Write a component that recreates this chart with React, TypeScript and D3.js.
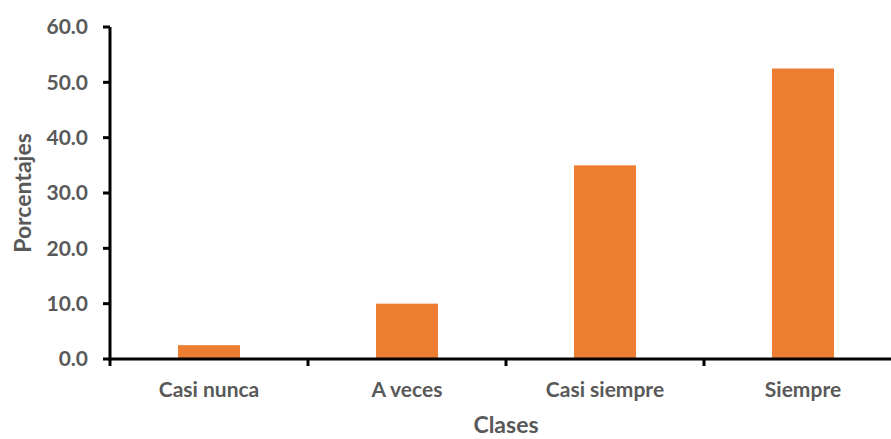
import React from "react";
import * as d3 from "d3";

const categories = ["Casi nunca", "A veces", "Casi siempre", "Siempre"];
const values = [2.5, 10.0, 35.0, 52.5];
const yTicks = [0, 10, 20, 30, 40, 50, 60];

const W = 891;
const H = 439;
const FONT = "Lato, 'Open Sans', sans-serif";
const TEXT = "#595959";

export default function App() {
  const x = d3
    .scaleBand<string>()
    .domain(categories)
    .range([110, 902])
    .paddingInner(0.687)
    .paddingOuter(0.3435);
  const step = x.step();
  const y = d3.scaleLinear().domain([0, 60]).range([359, 27]);

  return (
    <svg width={W} height={H} style={{ position: "absolute", left: 0, top: 0 }}>
      <rect width={W} height={H} fill="#fff" />
      {categories.map((c, i) => (
        <rect
          key={c}
          x={x(c)!}
          y={y(values[i])}
          width={x.bandwidth()}
          height={y(0) - y(values[i])}
          fill="#ED7D31"
        />
      ))}
      {/* y axis */}
      <line x1={110} x2={110} y1={y(60)} y2={y(0) + 1.5} stroke="#000" strokeWidth={3} />
      {yTicks.map((t) => (
        <g key={t}>
          <line x1={103} x2={110} y1={y(t)} y2={y(t)} stroke="#000" strokeWidth={3} />
          <text
            x={88}
            y={y(t)}
            dy="0.35em"
            textAnchor="end"
            fontFamily={FONT}
            fontWeight="bold"
            fontSize={21}
            fill={TEXT}
          >
            {d3.format(".1f")(t)}
          </text>
        </g>
      ))}
      {/* x axis */}
      <line x1={108.5} x2={902} y1={y(0)} y2={y(0)} stroke="#000" strokeWidth={3} />
      {d3.range(categories.length + 1).map((i) => (
        <line
          key={i}
          x1={110 + i * step}
          x2={110 + i * step}
          y1={y(0)}
          y2={y(0) + 7}
          stroke="#000"
          strokeWidth={3}
        />
      ))}
      {categories.map((c) => (
        <text
          key={c}
          x={x(c)! + x.bandwidth() / 2}
          y={397}
          textAnchor="middle"
          fontFamily={FONT}
          fontWeight="bold"
          fontSize={21}
          fill={TEXT}
        >
          {c}
        </text>
      ))}
      <text
        x={506}
        y={433}
        textAnchor="middle"
        fontFamily={FONT}
        fontWeight="bold"
        fontSize={23}
        fill={TEXT}
      >
        Clases
      </text>
      <text
        transform={`translate(31,193) rotate(-90)`}
        textAnchor="middle"
        fontFamily={FONT}
        fontWeight="bold"
        fontSize={23}
        fill={TEXT}
      >
        Porcentajes
      </text>
    </svg>
  );
}
